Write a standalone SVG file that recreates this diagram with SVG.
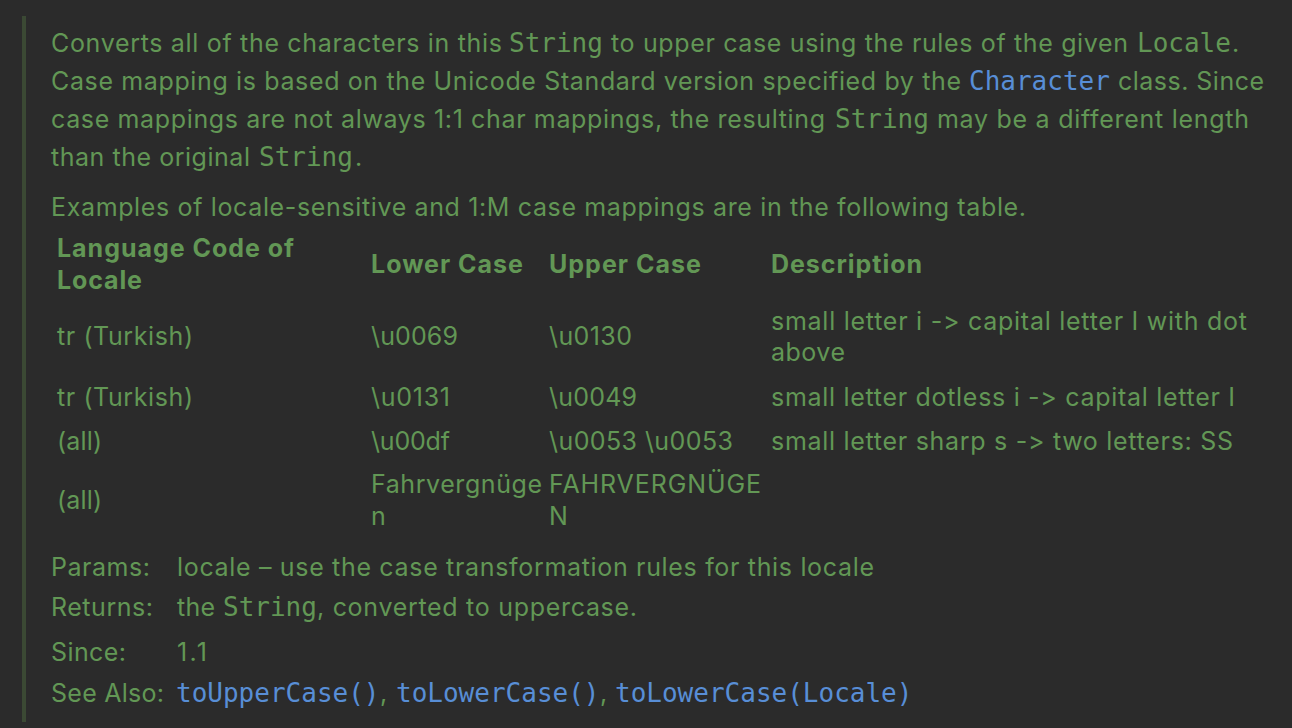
<svg xmlns="http://www.w3.org/2000/svg" width="1292" height="728" viewBox="0 0 1292 728">
<style>
.t,.b{font-family:Inter,"Liberation Sans",sans-serif;font-size:25px;fill:#629755;font-variant-ligatures:none;font-feature-settings:"calt" 0,"liga" 0}
.b{font-weight:700}
.m{font-family:"DejaVu Sans Mono","Liberation Mono",monospace;font-size:26px;fill:#629755}
.l{font-family:"DejaVu Sans Mono","Liberation Mono",monospace;font-size:26px;fill:#588ed6}
</style>
<rect width="1292" height="728" fill="#2b2b2b"/>
<rect id="bar" x="22" y="16" width="4" height="706" fill="#3b4934"/>
<g id="description">
<text class="t" x="51" y="52" textLength="451">Converts all of the characters in this</text>
<text class="m" x="509" y="52">String</text>
<text class="t" x="611" y="52" textLength="517">to upper case using the rules of the given</text>
<text class="m" x="1137" y="52">Locale</text>
<text class="t" x="1232" y="52">.</text>
<text class="t" x="51" y="90" textLength="910">Case mapping is based on the Unicode Standard version specified by the</text>
<text class="l" x="969" y="90">Character</text>
<text class="t" x="1118" y="90" textLength="146">class. Since</text>
<text class="t" x="51" y="128" textLength="774">case mappings are not always 1:1 char mappings, the resulting</text>
<text class="m" x="835" y="128">String</text>
<text class="t" x="937" y="128" textLength="312">may be a different length</text>
<text class="t" x="51" y="166" textLength="199">than the original</text>
<text class="m" x="259" y="166">String</text>
<text class="t" x="355" y="166">.</text>
<text class="t" x="51" y="216" textLength="975">Examples of locale-sensitive and 1:M case mappings are in the following table.</text>
</g>
<g id="table">
<text class="b" x="57" y="257" textLength="237">Language Code of</text>
<text class="b" x="57" y="289" textLength="85">Locale</text>
<text class="b" x="371" y="273" textLength="152">Lower Case</text>
<text class="b" x="549" y="273" textLength="152">Upper Case</text>
<text class="b" x="771" y="273" textLength="151">Description</text>

<text class="t" x="57" y="345" textLength="136">tr (Turkish)</text>
<text class="t" x="371" y="345" textLength="87">\u0069</text>
<text class="t" x="549" y="345" textLength="83">\u0130</text>
<text class="t" x="771" y="330" textLength="476">small letter i -&gt; capital letter I with dot</text>
<text class="t" x="771" y="361" textLength="74">above</text>

<text class="t" x="57" y="406" textLength="136">tr (Turkish)</text>
<text class="t" x="371" y="406" textLength="79">\u0131</text>
<text class="t" x="549" y="406" textLength="88">\u0049</text>
<text class="t" x="771" y="406" textLength="464">small letter dotless i -&gt; capital letter I</text>

<text class="t" x="57" y="450" textLength="45">(all)</text>
<text class="t" x="371" y="450" textLength="79">\u00df</text>
<text class="t" x="549" y="450" textLength="184">\u0053 \u0053</text>
<text class="t" x="771" y="450" textLength="462">small letter sharp s -&gt; two letters: SS</text>

<text class="t" x="57" y="509" textLength="45">(all)</text>
<text class="t" x="371" y="493" textLength="171">Fahrvergnüge</text>
<text class="t" x="371" y="525">n</text>
<text class="t" x="549" y="493" textLength="212">FAHRVERGNÜGE</text>
<text class="t" x="549" y="525">N</text>
</g>
<g id="tags">
<text class="t" x="51" y="576" textLength="99">Params:</text>
<text class="t" x="177" y="576" textLength="697">locale – use the case transformation rules for this locale</text>
<text class="t" x="51" y="616" textLength="102">Returns:</text>
<text class="t" x="177" y="616" textLength="38">the</text>
<text class="m" x="223" y="616">String</text>
<text class="t" x="317" y="616" textLength="320">, converted to uppercase.</text>
<text class="t" x="51" y="661" textLength="75">Since:</text>
<text class="t" x="177" y="661" textLength="30">1.1</text>
<text class="t" x="51" y="702" textLength="113">See Also:</text>
<text class="l" x="176" y="702">toUpperCase()</text>
<text class="t" x="380" y="702">,</text>
<text class="l" x="396" y="702">toLowerCase()</text>
<text class="t" x="600" y="702">,</text>
<text class="l" x="615" y="702">toLowerCase(Locale)</text>
</g>
</svg>
